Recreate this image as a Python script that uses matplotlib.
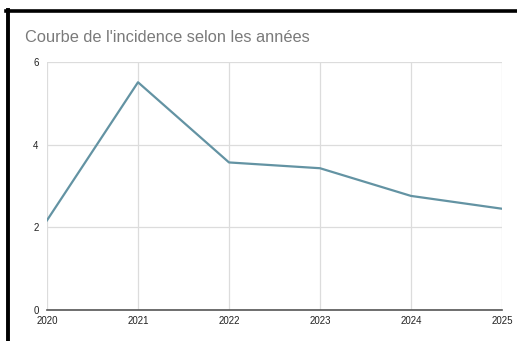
import matplotlib.pyplot as plt
from matplotlib.lines import Line2D

plt.rcParams['font.family'] = ['Liberation Sans', 'DejaVu Sans']

annees = [2020, 2021, 2022, 2023, 2024, 2025]
incidence = [2.17, 5.51, 3.57, 3.43, 2.76, 2.45]
yticks = [0, 2, 4, 6]

W, H = 517, 341
fig = plt.figure(figsize=(W / 100, H / 100), dpi=100)
ax = fig.add_axes([47 / W, 1 - 310 / H, (502 - 47) / W, (310 - 62) / H])

ax.plot(annees, incidence, color='#6393a3', linewidth=1.6, solid_joinstyle='round')

ax.set_xlim(2020, 2025)
ax.set_ylim(0, 6)
ax.set_xticks(annees)
ax.set_yticks(yticks)
ax.grid(True, color='#dcdcdc', linewidth=0.9)
ax.set_axisbelow(True)
for s in ['top', 'right', 'left']:
    ax.spines[s].set_visible(False)
ax.spines['bottom'].set_color('#555555')
ax.spines['bottom'].set_linewidth(1.2)
ax.tick_params(length=0, labelsize=7, colors='#222222')
ax.tick_params(axis='x', pad=4)
ax.tick_params(axis='y', pad=6)

fig.text(25 / W, 1 - 38 / H, "Courbe de l'incidence selon les années",
         fontsize=11.8, color='#7a7a7a', va='center', ha='left')

# cadre noir (haut et gauche)
fig.add_artist(Line2D([6 / W, 1], [1 - 11 / H, 1 - 11 / H], color='black', linewidth=2.6,
                      transform=fig.transFigure))
fig.add_artist(Line2D([7.5 / W, 7.5 / W], [1 - 9.5 / H, 0], color='black', linewidth=2.8,
                      transform=fig.transFigure))

fig.savefig('out.png', dpi=100)
